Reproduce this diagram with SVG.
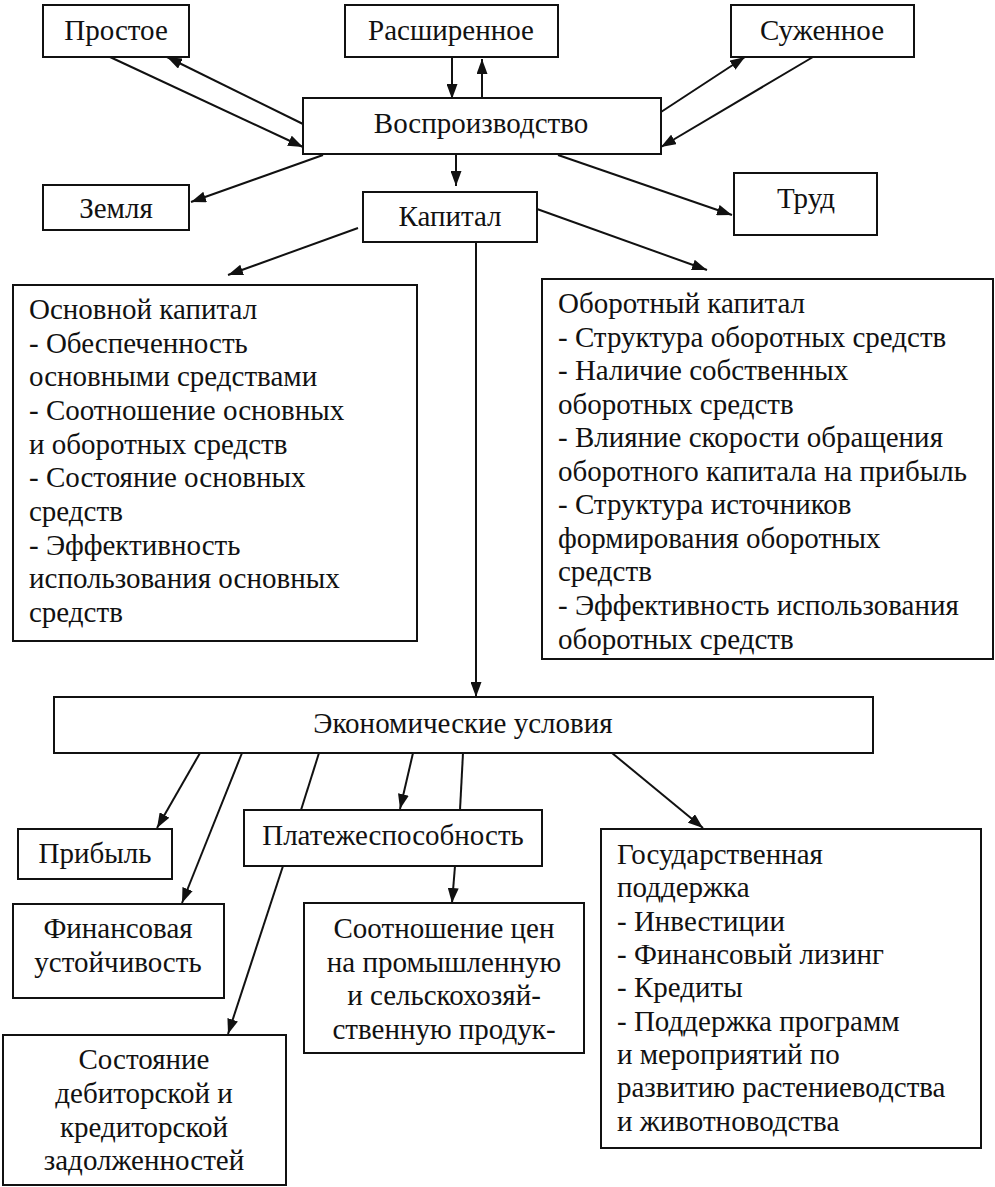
<svg xmlns="http://www.w3.org/2000/svg" width="995" height="1187" viewBox="0 0 995 1187">
<defs>
<style>
.box{fill:#fff;stroke:#111;stroke-width:2}
.t{font-family:'Liberation Serif','Times New Roman',serif;font-size:29px;fill:#111}
.c{text-anchor:middle}
.ln{stroke:#111;stroke-width:2;fill:none}
.ar{marker-end:url(#ah)}
</style>
<marker id="ah" markerUnits="userSpaceOnUse" markerWidth="15" markerHeight="11" refX="15" refY="5.5" orient="auto">
<path d="M0,0 L15,5.5 L0,11 z" fill="#111"/>
</marker>
</defs>
<rect width="995" height="1187" fill="#fff"/>
<g id="connectors">
<line class="ln ar" x1="110" y1="57" x2="303" y2="147"/>
<line class="ln ar" x1="303" y1="124" x2="167" y2="57"/>
<line class="ln ar" x1="452" y1="57" x2="452" y2="99"/>
<line class="ln ar" x1="482" y1="99" x2="482" y2="59"/>
<line class="ln ar" x1="661" y1="112" x2="745" y2="57"/>
<line class="ln ar" x1="813" y1="57" x2="661" y2="147"/>
<line class="ln ar" x1="323" y1="155" x2="191" y2="202"/>
<line class="ln ar" x1="456" y1="155" x2="456" y2="186"/>
<line class="ln ar" x1="558" y1="155" x2="732" y2="215"/>
<line class="ln ar" x1="358" y1="228" x2="228" y2="275"/>
<line class="ln ar" x1="537" y1="209" x2="707" y2="270"/>
<line class="ln ar" x1="476" y1="242" x2="476" y2="697"/>
<line class="ln ar" x1="200" y1="753" x2="157" y2="828"/>
<line class="ln ar" x1="242" y1="753" x2="182" y2="903"/>
<line class="ln" x1="319" y1="753" x2="301" y2="810"/>
<line class="ln ar" x1="283" y1="866" x2="228" y2="1034"/>
<line class="ln ar" x1="413" y1="753" x2="400" y2="809"/>
<line class="ln" x1="463" y1="753" x2="460" y2="810"/>
<line class="ln ar" x1="455" y1="866" x2="452" y2="903"/>
<line class="ln ar" x1="612" y1="753" x2="703" y2="828"/>
</g>
<g id="n-prostoe"><rect class="box" x="43" y="5" width="146" height="52"/><text class="t c" x="116" y="40">Простое</text></g>
<g id="n-rasshir"><rect class="box" x="345" y="5" width="213" height="52"/><text class="t c" x="451" y="40">Расширенное</text></g>
<g id="n-suzhen"><rect class="box" x="731" y="5" width="183" height="52"/><text class="t c" x="822" y="40">Суженное</text></g>
<g id="n-vospr"><rect class="box" x="303" y="98" width="358" height="56"/><text class="t c" x="481" y="133">Воспроизводство</text></g>
<g id="n-zemlya"><rect class="box" x="43" y="185" width="146" height="45"/><text class="t c" x="116" y="218">Земля</text></g>
<g id="n-kapital"><rect class="box" x="363" y="192" width="174" height="50"/><text class="t c" x="450" y="226">Капитал</text></g>
<g id="n-trud"><rect class="box" x="734" y="173" width="143" height="62"/><text class="t c" x="806" y="208">Труд</text></g>
<g id="n-osnovnoy"><rect class="box" x="13" y="285" width="404" height="356"/>
<text class="t" x="29"><tspan x="29" y="319">Основной капитал</tspan><tspan x="29" y="353">- Обеспеченность</tspan><tspan x="29" y="386">основными средствами</tspan><tspan x="29" y="420">- Соотношение основных</tspan><tspan x="29" y="454">и оборотных средств</tspan><tspan x="29" y="487">- Состояние основных</tspan><tspan x="29" y="521">средств</tspan><tspan x="29" y="555">- Эффективность</tspan><tspan x="29" y="588">использования основных</tspan><tspan x="29" y="622">средств</tspan></text></g>
<g id="n-oborotny"><rect class="box" x="542" y="279" width="451" height="380"/>
<text class="t" x="558"><tspan x="558" y="313">Оборотный капитал</tspan><tspan x="558" y="347">- Структура оборотных средств</tspan><tspan x="558" y="380">- Наличие собственных</tspan><tspan x="558" y="414">оборотных средств</tspan><tspan x="558" y="447">- Влияние скорости обращения</tspan><tspan x="558" y="481">оборотного капитала на прибыль</tspan><tspan x="558" y="514">- Структура источников</tspan><tspan x="558" y="548">формирования оборотных</tspan><tspan x="558" y="581">средств</tspan><tspan x="558" y="615">- Эффективность использования</tspan><tspan x="558" y="649">оборотных средств</tspan></text></g>
<g id="n-econom"><rect class="box" x="54" y="697" width="819" height="56"/><text class="t c" x="463" y="733">Экономические условия</text></g>
<g id="n-pribyl"><rect class="box" x="18" y="829" width="154" height="50"/><text class="t c" x="95" y="863">Прибыль</text></g>
<g id="n-platezh"><rect class="box" x="244" y="810" width="298" height="56"/><text class="t c" x="393" y="845">Платежеспособность</text></g>
<g id="n-finans"><rect class="box" x="13" y="904" width="211" height="94"/><text class="t c"><tspan x="118" y="938">Финансовая</tspan><tspan x="118" y="972">устойчивость</tspan></text></g>
<g id="n-sootn"><rect class="box" x="304" y="903" width="280" height="150"/><text class="t c"><tspan x="444" y="938">Соотношение цен</tspan><tspan x="444" y="972">на промышленную</tspan><tspan x="444" y="1005">и сельскохозяй-</tspan><tspan x="444" y="1039">ственную продук-</tspan></text></g>
<g id="n-gos"><rect class="box" x="601" y="829" width="380" height="319"/>
<text class="t" x="617"><tspan x="617" y="864">Государственная</tspan><tspan x="617" y="897">поддержка</tspan><tspan x="617" y="931">- Инвестиции</tspan><tspan x="617" y="964">- Финансовый лизинг</tspan><tspan x="617" y="997">- Кредиты</tspan><tspan x="617" y="1031">- Поддержка программ</tspan><tspan x="617" y="1064">и мероприятий по</tspan><tspan x="617" y="1097">развитию растениеводства</tspan><tspan x="617" y="1131">и животноводства</tspan></text></g>
<g id="n-sostoyanie"><rect class="box" x="3" y="1035" width="283" height="150"/><text class="t c"><tspan x="144" y="1069">Состояние</tspan><tspan x="144" y="1103">дебиторской и</tspan><tspan x="144" y="1137">кредиторской</tspan><tspan x="144" y="1170">задолженностей</tspan></text></g>
</svg>
